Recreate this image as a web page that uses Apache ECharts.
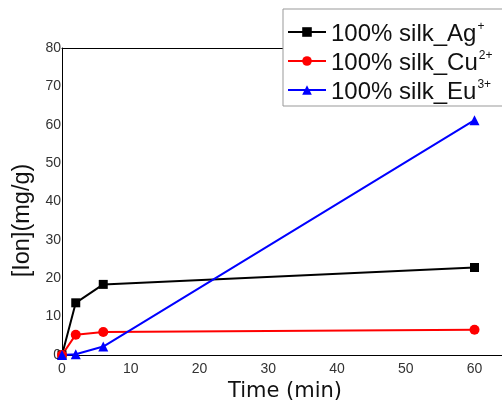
<!DOCTYPE html>
<html><head><meta charset="utf-8">
<script src="https://cdn.jsdelivr.net/npm/echarts@6/dist/echarts.min.js"></script>
<style>html,body{margin:0;padding:0;background:#fff}#c{width:502px;height:400px}</style>
</head><body><div id="c"></div>
<script>
const times = [0, 2, 6, 60];
const agValues = [0, 13.6, 18.4, 22.8];
const cuValues = [0, 5.3, 6.0, 6.6];
const euValues = [0, 0.2, 2.2, 61.2];
const seriesNames = ['Ag', 'Cu', 'Eu'];
const seriesSup = ['+', '2+', '3+'];
const xTicks = [0, 10, 20, 30, 40, 50, 60];
const yTicks = [0, 10, 20, 30, 40, 50, 60, 70, 80];

const pair = (vals) => times.map((t, i) => [t, vals[i]]);
const chart = echarts.init(document.getElementById('c'));
const font = 'Liberation Sans, Arial, sans-serif';
chart.setOption({
  animation: false,
  grid: { left: 62, right: 0, top: 48, bottom: 45, outerBoundsMode: 'none', containLabel: false },
  xAxis: [{
    type: 'value', min: 0, max: 64, interval: 10,
    name: 'Time (min)', nameLocation: 'middle', nameGap: 20,
    nameTextStyle: { fontFamily: 'DejaVu Sans', fontSize: 21, color: '#111', padding: [0, 0, 0, 6] },
    axisLine: { lineStyle: { color: '#000', width: 1 } },
    axisTick: { show: false },
    splitLine: { show: false },
    axisLabel: { fontFamily: font, fontSize: 14, color: '#333', margin: 7,
      formatter: v => xTicks.includes(v) ? String(v) : '' }
  }, {
    type: 'value', min: 0, max: 64, position: 'top',
    axisLine: { show: true, lineStyle: { color: '#000', width: 1 } },
    axisTick: { show: false }, axisLabel: { show: false }, splitLine: { show: false }
  }],
  yAxis: {
    type: 'value', min: 0, max: 80, interval: 10,
    name: '[Ion](mg/g)', nameLocation: 'middle', nameGap: 27,
    nameTextStyle: { fontFamily: font, fontSize: 23.5, color: '#111', padding: [0, 38, 0, 0] },
    axisLine: { show: true, lineStyle: { color: '#000', width: 1 } },
    axisTick: { show: false },
    splitLine: { show: false },
    axisLabel: { fontFamily: font, fontSize: 14, color: '#333', margin: 1,
      formatter: v => yTicks.includes(v) ? String(v) : '' }
  },
  legend: {
    left: 283, top: 9, orient: 'vertical',
    backgroundColor: '#fff', borderColor: '#999', borderWidth: 1,
    padding: [9, 60, 2, 4], itemGap: 1, itemWidth: 38, itemHeight: 12,
    formatter: name => {
      const i = seriesNames.indexOf(name.split('_')[1]);
      return '{m|100% silk_' + seriesNames[i] + '}{s|' + seriesSup[i] + '}';
    },
    textStyle: {
      rich: {
        m: { fontFamily: font, fontSize: 24, color: '#111', lineHeight: 28, verticalAlign: 'bottom' },
        s: { fontFamily: font, fontSize: 12, color: '#111', lineHeight: 28, verticalAlign: 'top', padding: [3, 0, 0, 1] }
      }
    }
  },
  series: [
    { name: '100% silk_Ag', type: 'line', data: pair(agValues), symbol: 'rect', symbolSize: 9,
      lineStyle: { color: '#000', width: 2 }, itemStyle: { color: '#000' } },
    { name: '100% silk_Cu', type: 'line', data: pair(cuValues), symbol: 'circle', symbolSize: 10,
      lineStyle: { color: '#f00', width: 2 }, itemStyle: { color: '#f00' } },
    { name: '100% silk_Eu', type: 'line', data: pair(euValues), symbol: 'triangle', symbolSize: 10,
      lineStyle: { color: '#00f', width: 2 }, itemStyle: { color: '#00f' } }
  ]
});
</script></body></html>
